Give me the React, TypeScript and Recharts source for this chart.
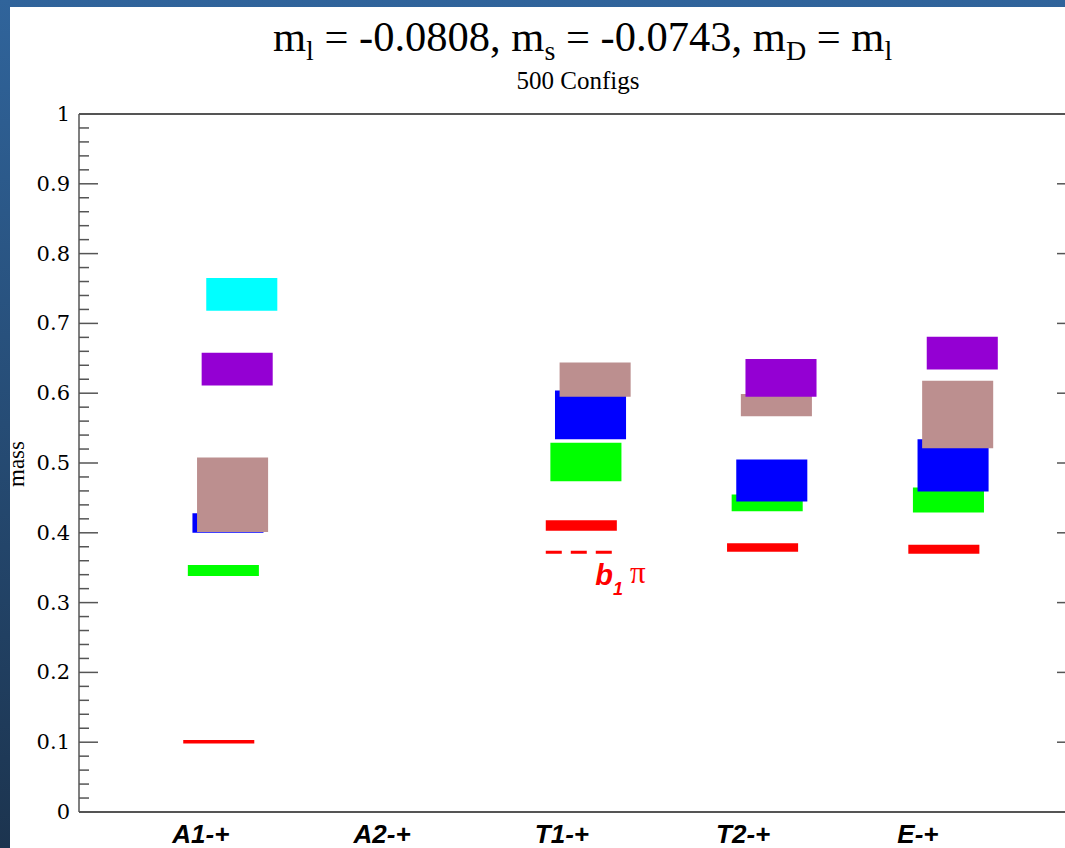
import React from 'react';
import { ComposedChart, XAxis, YAxis, Line, ReferenceArea, ReferenceLine, ReferenceDot } from 'recharts';

type Range = [number, number] | null;

// channels along the x axis
const categories = ['A1-+', 'A2-+', 'T1-+', 'T2-+', 'E-+'];
const categoryPos = [1, 2, 3, 4, 5];

// mass bands [low, high] per channel, one array per state (null = no state)
const redBands: Range[] = [[0.098, 0.103], null, [0.403, 0.418], [0.373, 0.385], [0.370, 0.383]];
const greenBands: Range[] = [[0.338, 0.354], null, [0.474, 0.529], [0.431, 0.455], [0.429, 0.465]];
const blueBands: Range[] = [[0.400, 0.428], null, [0.534, 0.604], [0.445, 0.505], [0.459, 0.534]];
const brownBands: Range[] = [[0.401, 0.508], null, [0.595, 0.644], [0.567, 0.599], [0.521, 0.618]];
const purpleBands: Range[] = [[0.611, 0.658], null, null, [0.595, 0.649], [0.634, 0.681]];
const cyanBands: Range[] = [[0.718, 0.765], null, null, null, null];

const stateColors = ['#ff0000', '#00ff00', '#0000ff', '#bc8f8f', '#9400d3', '#00ffff'];
const states = [redBands, greenBands, blueBands, brownBands, purpleBands, cyanBands];

// b1 pi threshold in the T1 channel
const thresholdChannel = 3;
const thresholdMass = 0.372;

const yMajor = [0, 0.1, 0.2, 0.3, 0.4, 0.5, 0.6, 0.7, 0.8, 0.9, 1];
const yTicks = Array.from({ length: 51 }, (_, i) => Math.round(i * 2) / 100);

// box geometry (x units): each state steps a little to the right
const BOX_LEFT = -0.105;
const BOX_WIDTH = 0.392;
const LEVEL_STEP = 0.0254;

const AXIS_COLOR = '#555';

const isMajor = (v: number) => yMajor.some((m) => Math.abs(m - v) < 1e-6);

const LeftTick = (props: any) => {
  const { x, y, payload } = props;
  const major = isMajor(payload.value);
  return (
    <g>
      <line x1={x} x2={x + (major ? 19 : 10)} y1={y} y2={y} stroke={AXIS_COLOR} strokeWidth={1.5} />
      {major && (
        <text x={x - 9} y={y} dy={7} textAnchor="end" fontFamily="DejaVu Serif" fontSize={21} fill="#000">
          {String(Math.round(payload.value * 10) / 10)}
        </text>
      )}
    </g>
  );
};

const RightTick = (props: any) => {
  const { x, y, payload } = props;
  const major = isMajor(payload.value);
  return <line x1={x} x2={x - (major ? 19 : 10)} y1={y} y2={y} stroke={AXIS_COLOR} strokeWidth={1.5} />;
};

const BottomTick = (props: any) => {
  const { x, y, payload } = props;
  return (
    <text x={x - 30} y={y + 31} fontFamily="Liberation Sans" fontWeight="bold" fontStyle="italic" fontSize={26} fill="#000">
      {categories[payload.value - 1]}
    </text>
  );
};

const ThresholdLabel = (props: any) => {
  const { cx, cy } = props;
  return (
    <text x={cx} y={cy} fill="#ff0000">
      <tspan fontFamily="Liberation Sans" fontWeight="bold" fontStyle="italic" fontSize={29}>b</tspan>
      <tspan fontFamily="Liberation Sans" fontWeight="bold" fontStyle="italic" fontSize={18} dy={10}>1</tspan>
      <tspan fontFamily="Liberation Serif" fontSize={31} dx={7} dy={-12}>π</tspan>
    </text>
  );
};

const App: React.FC = () => {
  const boxes: React.ReactNode[] = [];
  states.forEach((bands, level) => {
    bands.forEach((band, c) => {
      if (!band) return;
      const left = categoryPos[c] + BOX_LEFT + level * LEVEL_STEP;
      boxes.push(
        <ReferenceArea
          key={`${level}-${c}`}
          yAxisId="left"
          x1={left}
          x2={left + BOX_WIDTH}
          y1={band[0]}
          y2={band[1]}
          fill={stateColors[level]}
          fillOpacity={1}
          stroke="none"
        />
      );
    });
  });

  const tLeft = thresholdChannel + BOX_LEFT;
  const chartData = categoryPos.map((p) => ({ x: p, zero: 0 }));

  return (
    <div
      style={{
        position: 'fixed',
        left: 0,
        top: 0,
        width: 1065,
        height: 848,
        overflow: 'hidden',
        background: 'linear-gradient(to bottom, #30649b, #1c344f)',
      }}
    >
      <div style={{ position: 'absolute', left: 10, top: 7, width: 1055, height: 841, background: '#fff' }} />
      <svg width={1065} height={110} style={{ position: 'absolute', left: 0, top: 0 }}>
        <text x={273} y={51} fontFamily="Liberation Serif" fontSize={42.5} fill="#000">
          m<tspan fontSize={28} dy={9}>l</tspan>
          <tspan dy={-9}> = -0.0808, m</tspan>
          <tspan fontSize={28} dy={9}>s</tspan>
          <tspan dy={-9}> = -0.0743, m</tspan>
          <tspan fontSize={28} dy={9}>D</tspan>
          <tspan dy={-9}> = m</tspan>
          <tspan fontSize={28} dy={9}>l</tspan>
        </text>
        <text x={578} y={89} textAnchor="middle" fontFamily="Liberation Serif" fontSize={25} fill="#000">
          500 Configs
        </text>
      </svg>
      <svg width={40} height={848} style={{ position: 'absolute', left: 0, top: 0 }}>
        <text
          x={24}
          y={464}
          transform="rotate(-90 24 464)"
          textAnchor="middle"
          fontFamily="Liberation Serif"
          fontSize={23}
          fill="#000"
        >
          mass
        </text>
      </svg>
      <div style={{ position: 'absolute', left: 0, top: 0 }}>
        <ComposedChart
          width={1090}
          height={848}
          data={chartData}
          margin={{ top: 113, right: 0, bottom: 0, left: 0 }}
        >
          <XAxis
            dataKey="x"
            type="number"
            domain={[0.32, 5.82]}
            ticks={categoryPos}
            allowDataOverflow
            interval={0}
            height={36}
            tickSize={0}
            tickMargin={0}
            tickLine={false}
            axisLine={{ stroke: AXIS_COLOR, strokeWidth: 2 }}
            tick={<BottomTick />}
          />
          <XAxis
            xAxisId="top"
            dataKey="x"
            orientation="top"
            type="number"
            domain={[0.32, 5.82]}
            allowDataOverflow
            height={1}
            tick={false}
            tickLine={false}
            axisLine={{ stroke: AXIS_COLOR, strokeWidth: 2 }}
          />
          <YAxis
            yAxisId="left"
            type="number"
            domain={[0, 1]}
            allowDataOverflow
            ticks={yTicks}
            interval={0}
            width={79}
            tickSize={0}
            tickMargin={0}
            tickLine={false}
            axisLine={{ stroke: AXIS_COLOR, strokeWidth: 1.5 }}
            tick={<LeftTick />}
          />
          <YAxis
            yAxisId="right"
            orientation="right"
            type="number"
            domain={[0, 1]}
            allowDataOverflow
            ticks={yTicks}
            interval={0}
            width={14}
            tickSize={0}
            tickMargin={0}
            tickLine={false}
            axisLine={{ stroke: AXIS_COLOR, strokeWidth: 1.5 }}
            tick={<RightTick />}
          />
          {/* invisible carriers so every axis has a series */}
          <Line yAxisId="left" dataKey="zero" stroke="none" dot={false} activeDot={false} isAnimationActive={false} />
          <Line yAxisId="right" dataKey="zero" stroke="none" dot={false} activeDot={false} isAnimationActive={false} />
          <Line xAxisId="top" yAxisId="left" dataKey="zero" stroke="none" dot={false} activeDot={false} isAnimationActive={false} />
          {boxes}
          <ReferenceLine
            yAxisId="left"
            segment={[
              { x: tLeft, y: thresholdMass },
              { x: tLeft + BOX_WIDTH + 0.02, y: thresholdMass },
            ]}
            stroke="#ff0000"
            strokeWidth={3}
            strokeDasharray="16 9"
          />
          <ReferenceDot
            yAxisId="left"
            x={3.168}
            y={0.3257}
            r={0}
            shape={<ThresholdLabel />}
          />
        </ComposedChart>
      </div>
    </div>
  );
};

export default App;
